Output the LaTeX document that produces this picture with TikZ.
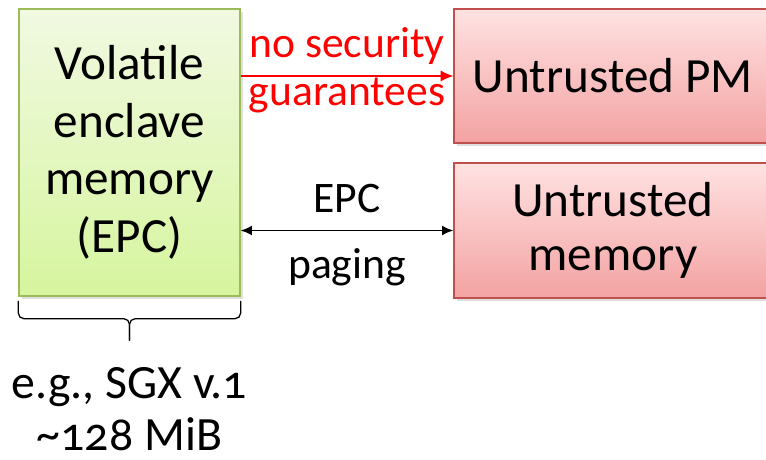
\documentclass[tikz,border=0pt]{standalone}
\usepackage{fontspec}
\setmainfont{Carlito}[Numbers=OldStyle]
\usetikzlibrary{arrows.meta,shadows}

\definecolor{enclavetop}{RGB}{241,249,226}
\definecolor{enclavebot}{RGB}{214,245,158}
\definecolor{enclaveline}{RGB}{155,187,89}
\definecolor{untrustedtop}{RGB}{255,226,226}
\definecolor{untrustedbot}{RGB}{243,162,162}
\definecolor{untrustedline}{RGB}{192,80,77}

\begin{document}
\begin{tikzpicture}
    % Define styles
    \tikzset{
        boxtext/.style={font=\fontsize{35}{41}\selectfont, align=center, inner sep=0pt},
        enclavebox/.style={boxtext, draw=enclaveline, line width=1pt, top color=enclavetop, bottom color=enclavebot,
            drop shadow={opacity=0.25, shadow xshift=2pt, shadow yshift=-2pt}},
        untrustedbox/.style={boxtext, draw=untrustedline, line width=1pt, top color=untrustedtop, bottom color=untrustedbot,
            drop shadow={opacity=0.25, shadow xshift=2pt, shadow yshift=-2pt}},
        arrowlabel/.style={font=\fontsize{31}{37}\selectfont, inner sep=0pt, anchor=base},
        securityarrow/.style={red, line width=1pt, -{Latex[length=9pt, width=8pt]}},
        pagingarrow/.style={black, line width=1pt, {Latex[length=8pt, width=7pt]}-{Latex[length=8pt, width=7pt]}},
        bracestyle/.style={black, line width=0.9pt, rounded corners=4pt}
    }

    \useasboundingbox[fill=white] (0,0) rectangle (19.15,11.475);

    % Enclave memory (left)
    \node[enclavebox, minimum width=5.525cm, minimum height=7.175cm] (epc) at (3.2375,7.6625)
        {Volatile\\enclave\\memory\\(EPC)};

    % Untrusted memories (right)
    \node[untrustedbox, minimum width=7.95cm, minimum height=3.35cm] (pm) at (15.325,9.575)
        {Untrusted PM};
    \node[untrustedbox, minimum width=7.95cm, minimum height=3.375cm,
        font=\fontsize{35}{38}\selectfont] (mem) at (15.325,5.7125)
        {Untrusted\\memory};

    % Arrows
    \draw[securityarrow] (epc.east |- pm.west) -- (pm.west)
        node[arrowlabel, red, midway, yshift=13.5pt] (nosec) {no security}
        node[arrowlabel, red, midway, yshift=-21pt] (guar) {guarantees};
    \draw[pagingarrow] (epc.east |- mem.west) -- (mem.west)
        node[arrowlabel, midway, yshift=12.8pt] (epclbl) {EPC}
        node[arrowlabel, midway, yshift=-34pt] (paging) {paging};

    % Brace and size
    \draw[bracestyle] ([yshift=-3pt]epc.south west) |- ([yshift=-0.55cm]epc.south) -- ++(0,-0.55) coordinate (tip);
    \draw[bracestyle] ([yshift=-3pt]epc.south east) |- ([yshift=-0.55cm]epc.south) -- ++(0,-0.55);
    \node[boxtext, font=\fontsize{34}{37}\selectfont, anchor=north] (size) at ([yshift=-19pt]tip)
        {e.g., SGX v.1\\\textasciitilde128 MiB};

\end{tikzpicture}
\end{document}
